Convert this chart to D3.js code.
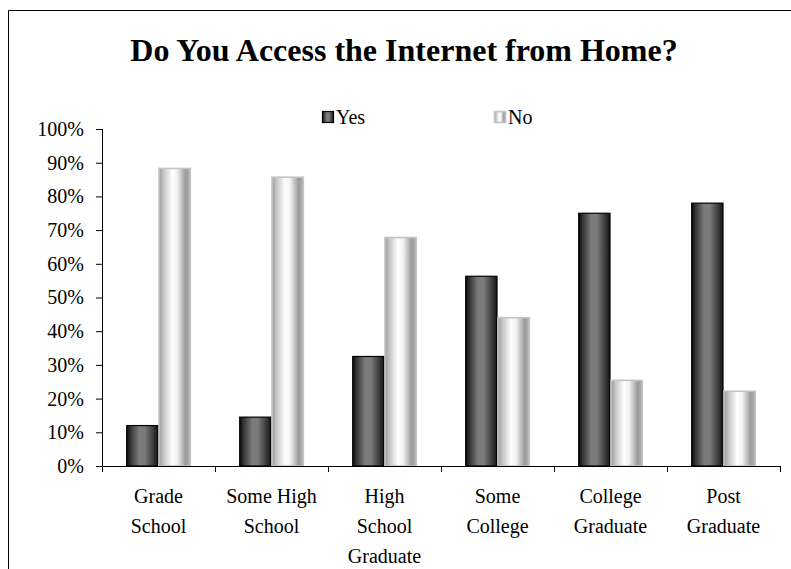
<!DOCTYPE html>
<html>
<head>
<meta charset="utf-8">
<script src="https://cdn.jsdelivr.net/npm/d3@7"></script>
<style>
  html, body { margin: 0; padding: 0; background: #fff; }
  svg { display: block; }
  svg text { font-family: "Liberation Serif", "Times New Roman", serif; fill: #000; }
</style>
</head>
<body>
<svg id="chart" width="791" height="569"></svg>
<script>
// Survey results: share of respondents by education level
const categories = ["Grade School", "Some High School", "High School Graduate", "Some College", "College Graduate", "Post Graduate"];
const seriesNames = ["Yes", "No"];
const yesValues = [0.12, 0.145, 0.325, 0.563, 0.75, 0.78];
const noValues  = [0.883, 0.857, 0.678, 0.44, 0.254, 0.222];
const yTicks = [0, 0.1, 0.2, 0.3, 0.4, 0.5, 0.6, 0.7, 0.8, 0.9, 1.0];
const titleText = "Do You Access the Internet from Home?";

const svg = d3.select("#chart");
const W = 791, H = 569;
const plot = { left: 102, right: 780, top: 129, bottom: 466 };
const serif = "'Liberation Serif', 'Times New Roman', serif";

// gradients giving the bars their rounded, cylinder-like shading
const defs = svg.append("defs");
function addGradient(id, stops) {
  const g = defs.append("linearGradient").attr("id", id)
    .attr("x1", "0%").attr("x2", "100%").attr("y1", "0%").attr("y2", "0%");
  stops.forEach(([o, c]) => g.append("stop").attr("offset", o).attr("stop-color", c));
}
addGradient("gradYes", [["0%", "#0a0a0a"], ["12%", "#333333"], ["40%", "#7c7c7c"], ["58%", "#7a7a7a"], ["85%", "#3a3a3a"], ["100%", "#141414"]]);
addGradient("gradNo", [["0%", "#9c9c9c"], ["15%", "#c6c6c6"], ["42%", "#ffffff"], ["58%", "#f2f2f2"], ["85%", "#9a9a9a"], ["100%", "#b4b4b4"]]);
const fills = { Yes: "url(#gradYes)", No: "url(#gradNo)" };
const strokes = { Yes: "#000000", No: "#c4c4c4" };
const strokeW = { Yes: 1.2, No: 1.6 };

// chart frame
svg.append("path")
  .attr("d", `M8.5,${H} V10.5 H${W}`)
  .attr("fill", "none").attr("stroke", "#000").attr("stroke-width", 1);

// title
svg.append("text")
  .attr("x", 404).attr("y", 61)
  .attr("text-anchor", "middle")
  .style("font-family", serif)
  .style("font-size", "32px").style("font-weight", "bold")
  .text(titleText);

// scales
const x0 = d3.scaleBand().domain(categories).range([plot.left, plot.right]).padding(0);
const x1 = d3.scaleBand().domain(seriesNames).range([0, x0.bandwidth()]).paddingInner(0).paddingOuter(0.75);
const y = d3.scaleLinear().domain([0, 1]).range([plot.bottom, plot.top]);

// bars
const rows = categories.map((c, i) => ({ cat: c, Yes: yesValues[i], No: noValues[i] }));
const groups = svg.append("g").selectAll("g").data(rows).join("g")
  .attr("transform", d => `translate(${x0(d.cat)},0)`);
groups.selectAll("rect")
  .data(d => seriesNames.map(s => ({ s, v: d[s] })))
  .join("rect")
  .attr("x", d => x1(d.s) + 0.5)
  .attr("y", d => y(d.v))
  .attr("width", x1.bandwidth() - 1)
  .attr("height", d => y(0) - y(d.v))
  .attr("fill", d => fills[d.s])
  .attr("stroke", d => strokes[d.s])
  .attr("stroke-width", d => strokeW[d.s]);

// y axis
const yAxis = d3.axisLeft(y).tickValues(yTicks).tickFormat(d3.format(".0%")).tickSize(6).tickPadding(12);
const gy = svg.append("g").attr("transform", `translate(${plot.left},0)`).call(yAxis)
  .attr("font-family", null).attr("font-size", null);
gy.select(".domain").attr("stroke", "#000").attr("d", `M0.5,${plot.top}V${plot.bottom + 0.5}`);
gy.selectAll(".tick line").attr("stroke", "#000");
gy.selectAll(".tick text").style("font-family", serif).style("font-size", "20px");

// x axis: baseline plus ticks at category boundaries
const gx = svg.append("g").attr("transform", `translate(0,${plot.bottom})`);
gx.append("line")
  .attr("x1", plot.left - 6).attr("x2", plot.right + 0.5)
  .attr("y1", 0.5).attr("y2", 0.5).attr("stroke", "#000");
const bounds = categories.map(c => x0(c)).concat([x0.range()[1]]);
gx.selectAll("line.tk").data(bounds).join("line").attr("class", "tk")
  .attr("x1", d => Math.round(d) + 0.5).attr("x2", d => Math.round(d) + 0.5)
  .attr("y1", 0).attr("y2", 6).attr("stroke", "#000");

// category labels, wrapped word by word to fit the band
const maxLine = 96;
const lineH = 30;
gx.selectAll("text.cat").data(categories).join("text").attr("class", "cat")
  .attr("text-anchor", "middle")
  .style("font-family", serif)
  .style("font-size", "20px")
  .each(function (c) {
    const t = d3.select(this);
    const cx = x0(c) + x0.bandwidth() / 2;
    const words = c.split(" ");
    const lines = [];
    let cur = [];
    const probe = t.append("tspan");
    words.forEach(w => {
      probe.text(cur.concat([w]).join(" "));
      if (cur.length && probe.node().getComputedTextLength() > maxLine) {
        lines.push(cur.join(" "));
        cur = [w];
      } else {
        cur.push(w);
      }
    });
    lines.push(cur.join(" "));
    probe.remove();
    lines.forEach((ln, i) => {
      t.append("tspan").attr("x", cx).attr("y", 37 + i * lineH).text(ln);
    });
  });

// legend
const legendItems = [{ s: "Yes", x: 322 }, { s: "No", x: 494 }];
const lg = svg.append("g").selectAll("g").data(legendItems).join("g")
  .attr("transform", d => `translate(${d.x},111)`);
lg.append("rect")
  .attr("x", 0.5).attr("y", 0.5).attr("width", 11).attr("height", 11)
  .attr("fill", d => fills[d.s])
  .attr("stroke", d => strokes[d.s]).attr("stroke-width", d => strokeW[d.s]);
lg.append("text")
  .attr("x", 14).attr("y", 13)
  .style("font-family", serif)
  .style("font-size", "20px")
  .text(d => d.s);
</script>
</body>
</html>
